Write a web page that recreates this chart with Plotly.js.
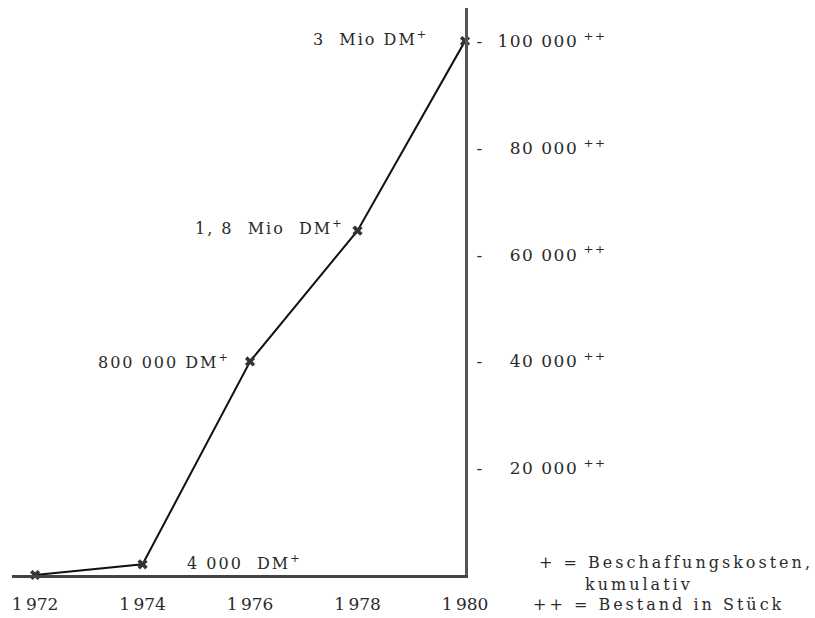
<!DOCTYPE html>
<html>
<head>
<meta charset="utf-8">
<script src="https://cdn.plot.ly/plotly-3.0.1.min.js"></script>
<style>
html,body{margin:0;padding:0;background:#fff;}
#chart{width:815px;height:618px;}
text.annotation-text{letter-spacing:2px;}
.ytick text{letter-spacing:1.5px;}
</style>
</head>
<body>
<div id="chart"></div>
<script>
// Data
var years = [1972, 1974, 1976, 1978, 1980];
var stock = [0, 2000, 40000, 64500, 100000];          // Bestand in Stück (++)
var costLabels = ["", "4\u00A0000\u00A0\u00A0DM<sup>+</sup>", "800\u00A0000 DM<sup>+</sup>", "1,\u00A08\u00A0\u00A0Mio\u00A0\u00A0DM<sup>+</sup>", "3\u00A0\u00A0Mio DM<sup>+</sup>"];
var xTickVals = [1972, 1974, 1976, 1978, 1980];
var xTickText = ["1\u2009972", "1\u2009974", "1\u2009976", "1\u2009978", "1\u2009980"];
var yTickVals = [20000, 40000, 60000, 80000, 100000];
var yTickText = ["-\u00A0\u00A0\u200720\u00A0000<sup>\u00A0++</sup>", "-\u00A0\u00A0\u200740\u00A0000<sup>\u00A0++</sup>", "-\u00A0\u00A0\u200760\u00A0000<sup>\u00A0++</sup>", "-\u00A0\u00A0\u200780\u00A0000<sup>\u00A0++</sup>", "-\u00A0\u00A0100\u00A0000<sup>\u00A0++</sup>"];
var legendLines = ["+ = Beschaffungskosten,", "kumulativ", "++ = Bestand in Stück"];

var FONT = "DejaVu Serif, Liberation Serif, serif";
var TXT = "#2a2a2a";

// label placement (styles/offsets only)
var labelStyle = [
  null,
  {xanchor: "left", xshift: 42, yshift: 2},
  {xanchor: "right", xshift: -18, yshift: 0},
  {xanchor: "right", xshift: -12, yshift: 3},
  {xanchor: "right", xshift: -35, yshift: 3}
];

var annotations = [];
for (var i = 0; i < years.length; i++) {
  if (!costLabels[i]) continue;
  var s = labelStyle[i];
  annotations.push({
    x: years[i], y: stock[i], xref: "x", yref: "y",
    text: costLabels[i], showarrow: false,
    xanchor: s.xanchor, yanchor: "middle", xshift: s.xshift, yshift: s.yshift,
    font: {family: FONT, size: 16, color: TXT}
  });
}
var nPointLabels = annotations.length;
// legend text (plot area: x 12..465 px, y 8..575 px)
var legendPos = [[1.1589, 0.0212], [1.2605, -0.0159], [1.1457, -0.0512]];
for (var j = 0; j < legendLines.length; j++) {
  annotations.push({xref: "paper", yref: "paper", x: legendPos[j][0], y: legendPos[j][1],
    text: legendLines[j], showarrow: false, xanchor: "left", yanchor: "middle", align: "left",
    font: {family: FONT, size: 16, color: TXT}});
}

var trace = {
  x: years, y: stock, type: "scatter", mode: "lines+markers",
  line: {color: "#111", width: 2},
  marker: {symbol: "x", size: 9, color: "#333"},
  cliponaxis: false, hoverinfo: "skip"
};

var layout = {
  width: 815, height: 618,
  margin: {l: 12, r: 350, t: 8, b: 43},
  paper_bgcolor: "#fff", plot_bgcolor: "#fff",
  showlegend: false,
  xaxis: {
    range: [1971.57, 1980], showgrid: false, zeroline: false,
    showline: true, linecolor: "#444", linewidth: 2.5,
    tickvals: xTickVals, ticktext: xTickText, ticks: "",
    ticklabelstandoff: 12,
    tickfont: {family: FONT, size: 17, color: TXT}
  },
  yaxis: {
    range: [0, 106200], side: "right", showgrid: false, zeroline: false,
    showline: true, linecolor: "#555", linewidth: 3,
    tickvals: yTickVals, ticktext: yTickText, ticks: "",
    ticklabelstandoff: 5,
    tickfont: {family: FONT, size: 17, color: TXT}
  },
  annotations: annotations
};

Plotly.newPlot("chart", [trace], layout, {displayModeBar: false, staticPlot: true}).then(function () {
  var texts = document.querySelectorAll("#chart text.annotation-text");
  for (var k = nPointLabels; k < texts.length; k++) {
    texts[k].style.letterSpacing = "3px";
  }
});
</script>
</body>
</html>
